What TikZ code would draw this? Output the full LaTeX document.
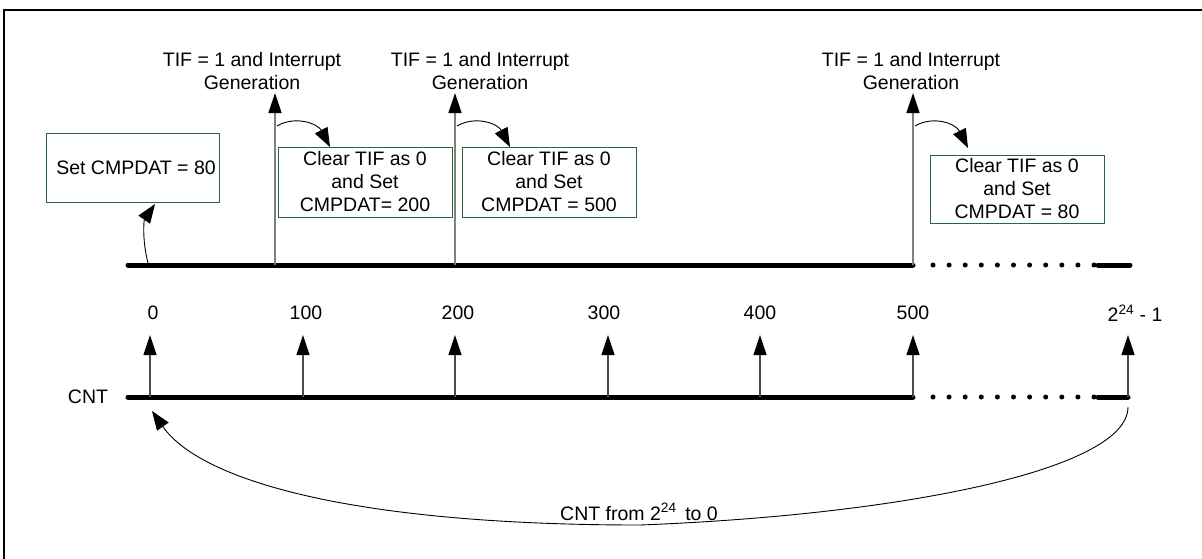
\documentclass[tikz,border=0pt]{standalone}
\usepackage{fontspec}
\setmainfont{Liberation Sans}
\usetikzlibrary{arrows.meta}
\definecolor{boxgreen}{RGB}{45,100,60}
\begin{document}
\begin{tikzpicture}[x=1pt,y=-1pt,
  font=\fontsize{19.5}{23}\selectfont,
  axis/.style={line width=5pt,line cap=round},
  dotaxis/.style={line width=5pt,line cap=round,dash pattern=on 0pt off 16.1pt},
  stepbox/.style={draw=boxgreen,line width=1pt,minimum width=174pt,minimum height=69pt,align=center,inner sep=0pt},
  txt/.style={align=center,inner sep=0pt},
  uparrow/.style={draw=gray,line width=1.5pt,-{Triangle[length=20pt,width=13pt,color=black]}},
  cntarrow/.style={draw=black!70,line width=1.2pt,-{Triangle[length=20pt,width=13pt,color=black]}},
  curvearrow/.style={draw=black,line width=0.9pt,-{Triangle[length=19pt,width=14pt]}},
]
\useasboundingbox (0,0) rectangle (1202,558);
\fill[white] (0,0) rectangle (1202,558);
% frame
\draw[line width=2.5pt] (1215,10) -- (4,10) -- (4,570);

% ---------- top timeline ----------
\coordinate (ts) at (128,265);
\coordinate (te) at (913,265);
\coordinate (tds) at (933,265);
\coordinate (tde) at (1095,265);
\coordinate (tfs) at (1098,265);
\coordinate (tfe) at (1130,265);
\draw[axis] (ts) -- (te);
\draw[dotaxis] (tds) -- (tde);
\draw[axis] (tfs) -- (tfe);

% interrupt arrows
\coordinate (i1b) at (275,265); \coordinate (i1t) at (275,93);
\coordinate (i2b) at (455,265); \coordinate (i2t) at (455,93);
\coordinate (i3b) at (913,265); \coordinate (i3t) at (913,93);
\draw[uparrow] (i1b) -- (i1t);
\draw[uparrow] (i2b) -- (i2t);
\draw[uparrow] (i3b) -- (i3t);

\node[txt] (l1) at (252,71) {TIF = 1 and Interrupt\\Generation};
\node[txt] (l2) at (480,71) {TIF = 1 and Interrupt\\Generation};
\node[txt] (l3) at (911,71) {TIF = 1 and Interrupt\\Generation};

% boxes
\node[stepbox,minimum width=173pt] (b1) at (132.5,167.5) {\hspace*{7pt}Set CMPDAT = 80};
\node[stepbox,minimum height=70pt] (b2) at (365,182) {Clear TIF as 0\\and Set\\CMPDAT= 200};
\node[stepbox,minimum height=70pt] (b3) at (549,182) {Clear TIF as 0\\and Set\\CMPDAT = 500};
\node[stepbox,minimum height=68pt] (b4) at (1017,189) {Clear TIF as 0\\and Set\\CMPDAT = 80};

% curved arrows
\coordinate (c1s) at (277,126); \coordinate (c1e) at (330,147);
\coordinate (c2s) at (457,126); \coordinate (c2e) at (510,147);
\coordinate (c3s) at (915,126); \coordinate (c3e) at (968,148);
\draw[curvearrow] (c1s) .. controls (296,115) and (318,124) .. (c1e);
\draw[curvearrow] (c2s) .. controls (476,115) and (498,124) .. (c2e);
\draw[curvearrow] (c3s) .. controls (934,115) and (956,124) .. (c3e);
\coordinate (c0s) at (148,263); \coordinate (c0e) at (155,204);
\draw[curvearrow] (c0s) .. controls (142,240) and (144,220) .. (c0e);

% ---------- counter timeline ----------
\coordinate (bs) at (128,397);
\coordinate (be) at (913,397);
\coordinate (bds) at (933,397);
\coordinate (bde) at (1095,397);
\coordinate (bfs) at (1098,397);
\coordinate (bfe) at (1128,397);
\draw[axis] (bs) -- (be);
\draw[dotaxis] (bds) -- (bde);
\draw[axis] (bfs) -- (bfe);
\node[txt] (cnt) at (88,397) {CNT};

\foreach \n/\x/\lx/\t in {a0/150/153/0, a1/303/306/100, a2/455/458/200, a3/608/604/300, a4/760/760/400, a5/913/913/500, a6/1128/1135/{2\textsuperscript{24} - 1}}{
  \coordinate (\n b) at (\x,397);
  \coordinate (\n t) at (\x,335);
  \draw[cntarrow] (\n b) -- (\n t);
  \node[txt] (\n l) at (\lx,313) {\t};
}

% wrap-around arrow
\coordinate (ws) at (1128,407);
\coordinate (wm) at (640,525);
\coordinate (we) at (152,411);
\draw[curvearrow] (ws) .. controls (1128,470) and (900,515) .. (wm)
  .. controls (350,525) and (200,480) .. (we);
\node[txt] (wl) at (639,512) {CNT from 2\textsuperscript{24}\ \,to 0};
\end{tikzpicture}
\end{document}
